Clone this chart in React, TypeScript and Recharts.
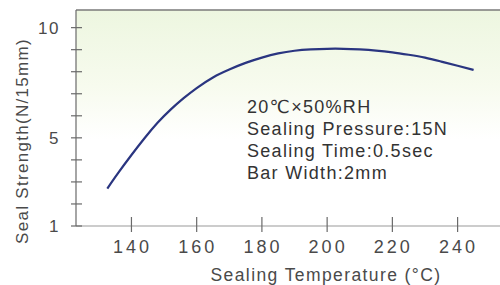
import { CartesianGrid, Line, LineChart, ReferenceLine, XAxis, YAxis } from 'recharts';

const TEMPERATURES = [
  132.6, 136, 140, 144, 148, 152, 156, 160, 165, 170, 175, 180, 185, 190, 195, 200, 205, 210, 215,
  220, 225, 230, 235, 240, 244.9,
];
const STRENGTHS = [
  2.7, 3.42, 4.22, 4.98, 5.68, 6.28, 6.8, 7.26, 7.74, 8.1, 8.4, 8.64, 8.83, 8.95, 9.01, 9.04, 9.04,
  9.01, 8.96, 8.88, 8.77, 8.64, 8.46, 8.27, 8.08,
];
const X_TICKS = [140, 160, 180, 200, 220, 240];
const Y_TICKS = [1, 2, 3, 4, 5, 6, 7, 8, 9, 10];
const Y_LABELLED = [1, 5, 10];
const CONDITIONS = ['20℃×50%RH', 'Sealing Pressure:15N', 'Sealing Time:0.5sec', 'Bar Width:2mm'];

const data = TEMPERATURES.map((t, i) => ({ temp: t, strength: STRENGTHS[i] }));

const FONT = '"Liberation Sans", Arial, "DejaVu Sans", sans-serif';
const AXIS_TEXT = '#4a4a4a';

function XTick(props: any) {
  const { x, y, payload } = props;
  return (
    <g>
      <line x1={x} x2={x} y1={y - 9} y2={y + 6} stroke="#6a6a6a" strokeWidth={1.2} />
      <text x={x + 1} y={y + 27} textAnchor="middle" fill={AXIS_TEXT} fontSize={18} fontFamily={FONT} letterSpacing={3}>
        {payload.value}
      </text>
    </g>
  );
}

function YTick(props: any) {
  const { x, y, payload } = props;
  const labelled = Y_LABELLED.includes(payload.value);
  return (
    <g>
      <line x1={x - 5} x2={x + 6} y1={y} y2={y} stroke="#6a6a6a" strokeWidth={1.2} />
      {labelled && (
        <text x={x - 16} y={y + 6} textAnchor="end" fill={AXIS_TEXT} fontSize={17} fontFamily={FONT} letterSpacing={1.5}>
          {payload.value}
        </text>
      )}
    </g>
  );
}

function YTitle(props: any) {
  const { viewBox } = props;
  const cx = viewBox.x + 22;
  const cy = viewBox.y + viewBox.height / 2 + 23;
  return (
    <text
      x={cx}
      y={cy}
      transform={`rotate(-90 ${cx} ${cy})`}
      textAnchor="middle"
      dominantBaseline="central"
      fill={AXIS_TEXT}
      fontSize={17}
      fontFamily={FONT}
      letterSpacing={1.3}
    >
      Seal Strength(N/15mm)
    </text>
  );
}

function XTitle(props: any) {
  const { viewBox } = props;
  const cx = viewBox.x + viewBox.width / 2 + 38;
  return (
    <text x={cx} y={viewBox.y + 55} textAnchor="middle" fill={AXIS_TEXT} fontSize={17.5} fontFamily={FONT} letterSpacing={1.4}>
      Sealing Temperature (°C)
    </text>
  );
}

export default function App() {
  return (
    <div style={{ position: 'absolute', left: 0, top: 0, width: 500, height: 285, background: '#fff' }}>
      <LineChart width={500} height={285} data={data} margin={{ top: 10, right: 0, left: 0, bottom: 0 }}>
        <defs>
          <linearGradient id="plotBg" x1="0" y1="0" x2="0" y2="1">
            <stop offset="0%" stopColor="#edf6e0" />
            <stop offset="35%" stopColor="#f7fbee" />
            <stop offset="60%" stopColor="#ffffff" />
          </linearGradient>
        </defs>
        <CartesianGrid horizontal={false} vertical={false} fill="url(#plotBg)" />
        <XAxis
          type="number"
          dataKey="temp"
          domain={[123, 253]}
          ticks={X_TICKS}
          interval={0}
          height={59}
          tickSize={0}
          tickMargin={0}
          tickLine={false}
          axisLine={{ stroke: '#9a9a9a', strokeWidth: 1.2 }}
          tick={<XTick />}
          label={<XTitle />}
          allowDataOverflow
        />
        <YAxis
          type="number"
          domain={[1, 10.8]}
          ticks={Y_TICKS}
          interval={0}
          width={76}
          tickSize={0}
          tickMargin={0}
          tickLine={false}
          axisLine={{ stroke: '#6a6a6a', strokeWidth: 1.2 }}
          tick={<YTick />}
          label={<YTitle />}
          allowDataOverflow
        />
        <ReferenceLine y={10.8} stroke="#7a7a7a" strokeWidth={1.5} ifOverflow="visible" />
        <Line
          type="natural"
          dataKey="strength"
          stroke="#2a3580"
          strokeWidth={2.2}
          dot={false}
          isAnimationActive={false}
        />
      </LineChart>
      <div
        style={{
          position: 'absolute',
          left: 247,
          top: 96,
          fontFamily: FONT,
          fontSize: 18,
          lineHeight: '22px',
          color: '#333',
          letterSpacing: 1.3,
          whiteSpace: 'nowrap',
        }}
      >
        {CONDITIONS.map((c) => (
          <div key={c}>{c}</div>
        ))}
      </div>
    </div>
  );
}
